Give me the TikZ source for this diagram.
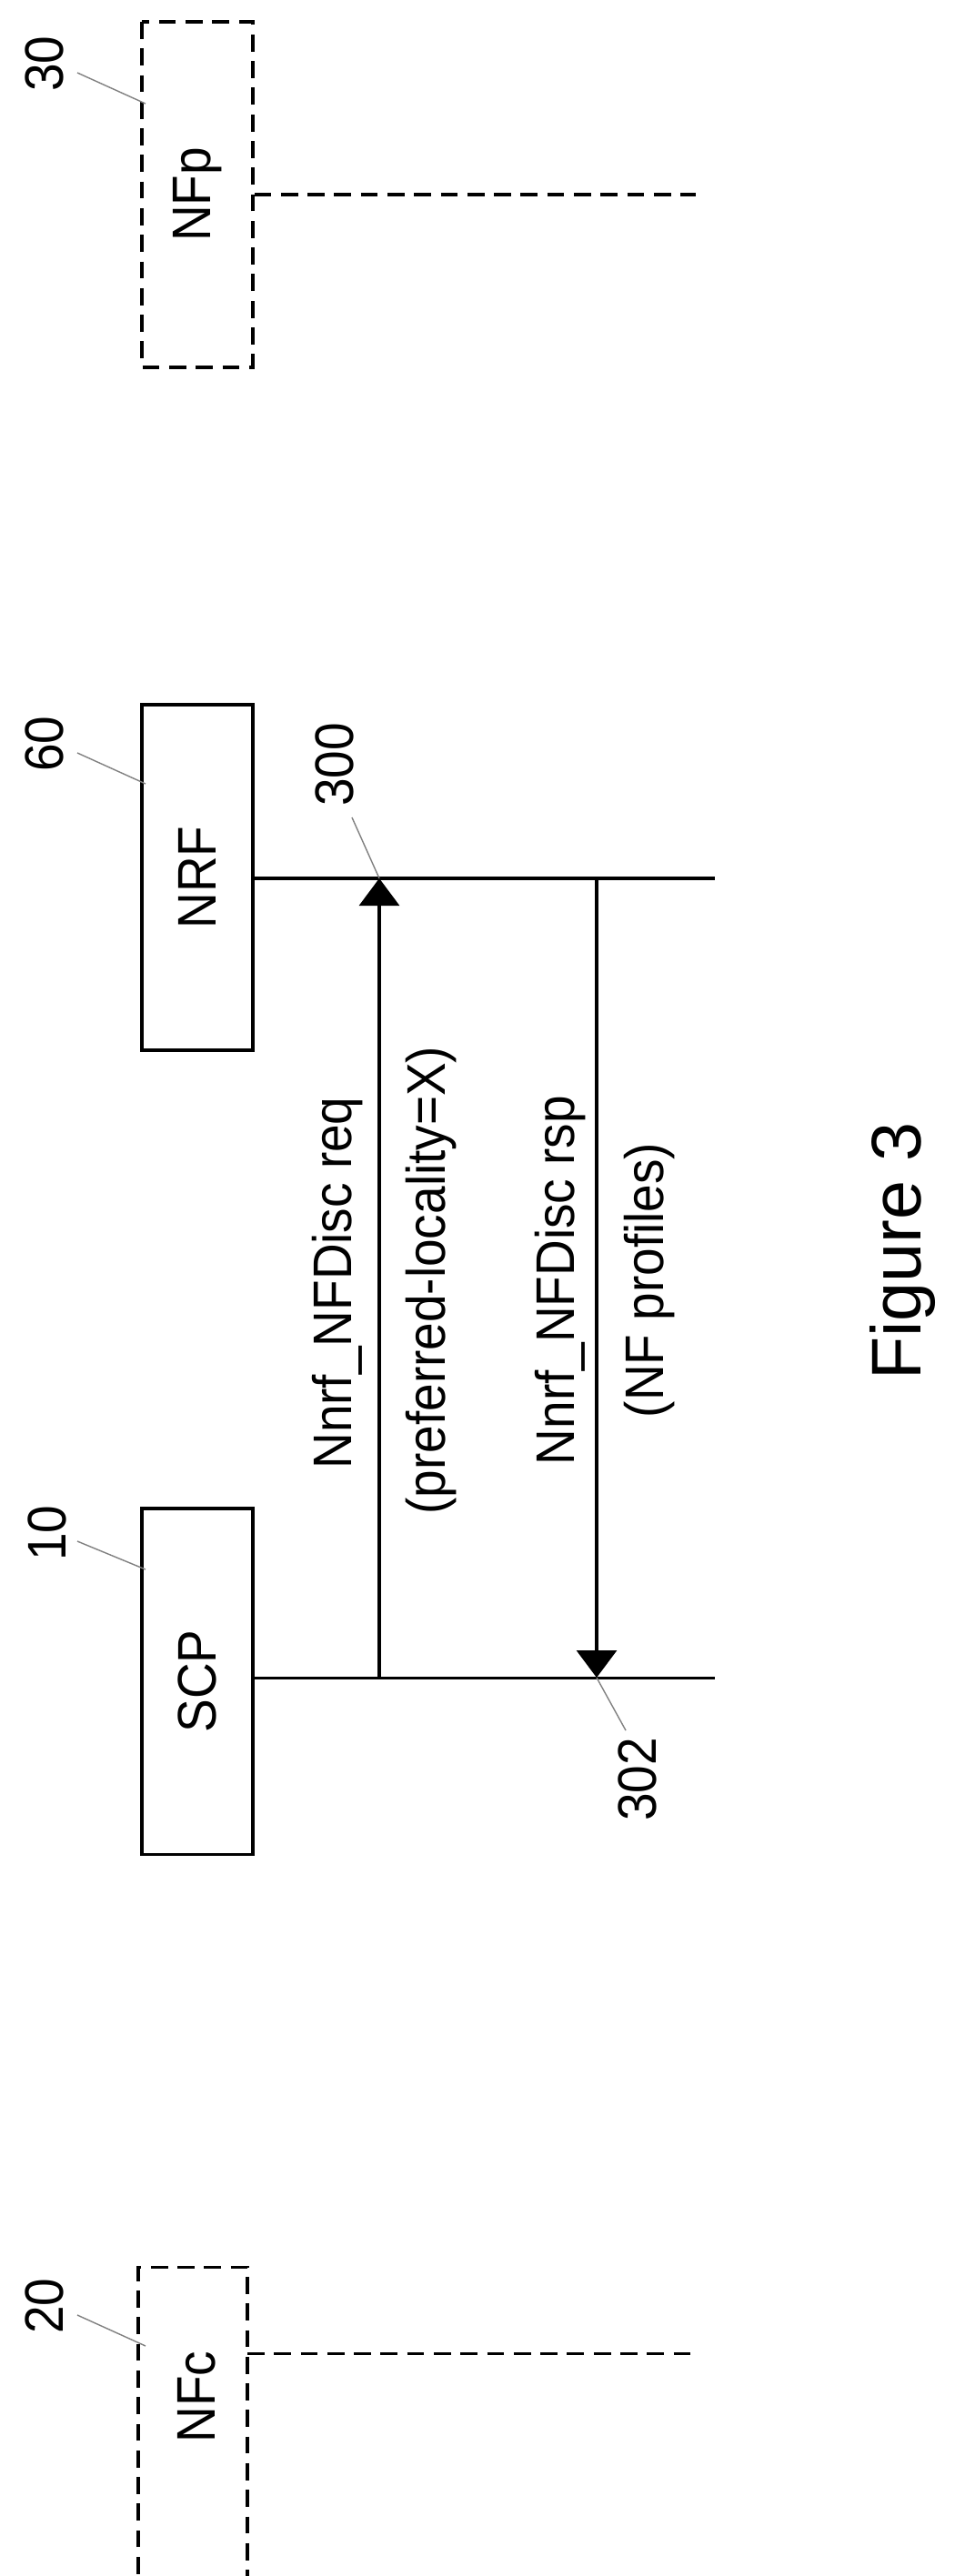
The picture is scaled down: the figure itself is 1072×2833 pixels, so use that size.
\documentclass[tikz,border=0pt]{standalone}
\usepackage{fontspec}
\setmainfont{Liberation Sans}
\newfontfamily\narrowfont{Liberation Sans}[FakeStretch=0.92]
\usetikzlibrary{arrows.meta}

\tikzset{
  entity/.style={draw,line width=2.6pt,rotate=90,minimum width=11.4cm,minimum height=3.66cm,
    inner sep=0pt,font=\narrowfont\fontsize{51}{60}\selectfont},
  ghost/.style={entity,dash pattern=on 16pt off 9pt},
  msg/.style={font=\narrowfont\fontsize{51}{60}\selectfont,rotate=90,inner sep=0pt},
  refnum/.style={font=\narrowfont\fontsize{51}{60}\selectfont,rotate=90,inner sep=0pt},
  leader/.style={draw=gray,line width=1.2pt},
  life/.style={line width=2.6pt},
  signal/.style={line width=2.6pt,-{Triangle[width=1.32cm,length=0.9cm]}}
}

\begin{document}
\begin{tikzpicture}[x=0.03cm,y=-0.03cm]
\useasboundingbox (0,0) rectangle (1072,2833);

%entities
\node[ghost]  (nfp) at (217,214)  {NFp};
\node[entity] (nrf) at (217,965)  {NRF};
\node[entity] (scp) at (217,1849) {SCP};
\draw[life,dash pattern=on 16pt off 9pt] (152,2860) -- (152,2493) -- (272,2493) -- (272,2860);
\node[msg] (nfc) at (216,2636) {NFc};

%lifelines
\coordinate (nfpR) at (765,214);
\coordinate (nrfR) at (786,966);
\coordinate (scpR) at (786,1845);
\coordinate (nfcL) at (272,2588);
\coordinate (nfcR) at (765,2588);
\draw[life,dash pattern=on 16pt off 9pt] (nfp.south |- nfpR) -- (nfpR);
\draw[life] (nrf.south |- nrfR) -- (nrfR);
\draw[life] (scp.south |- scpR) -- (scpR);
\draw[life,dash pattern=on 16pt off 9pt] (nfcL) -- (nfcR);

%messages
\coordinate (reqS) at (417,1845);
\coordinate (reqE) at (417,966);
\coordinate (rspS) at (656,966);
\coordinate (rspE) at (656,1845);
\draw[signal] (reqS) -- (reqE);
\draw[signal] (rspS) -- (rspE);
\node[msg] (req)  at (371,1411) {Nnrf\_NFDisc req};
\node[msg] (reqp) at (474,1408) {(preferred-locality=X)};
\node[msg] (rsp)  at (616,1408) {Nnrf\_NFDisc rsp};
\node[msg] (rspp) at (714,1408) {(NF profiles)};

%reference numbers
\node[refnum] (n30)  at (49,70)    {30};
\node[refnum] (n60)  at (49,818)   {60};
\node[refnum] (n10)  at (52,1686)  {10};
\node[refnum] (n20)  at (49,2536)  {20};
\node[refnum] (n300) at (368,841)  {300};
\node[refnum] (n302) at (701,1957) {302};
\coordinate (t30) at (160,114);
\coordinate (t60) at (160,862);
\coordinate (t10) at (160,1726);
\coordinate (t20) at (160,2580);
\draw[leader] (85,80) -- (t30);
\draw[leader] (85,828) -- (t60);
\draw[leader] (85,1695) -- (t10);
\draw[leader] (85,2546) -- (t20);
\draw[leader] (387,899) -- (reqE);
\draw[leader] (rspE) -- (688,1903);

\node[rotate=90,font=\fontsize{66}{78}\selectfont] (fig) at (992,1376) {Figure 3};
\end{tikzpicture}
\end{document}
